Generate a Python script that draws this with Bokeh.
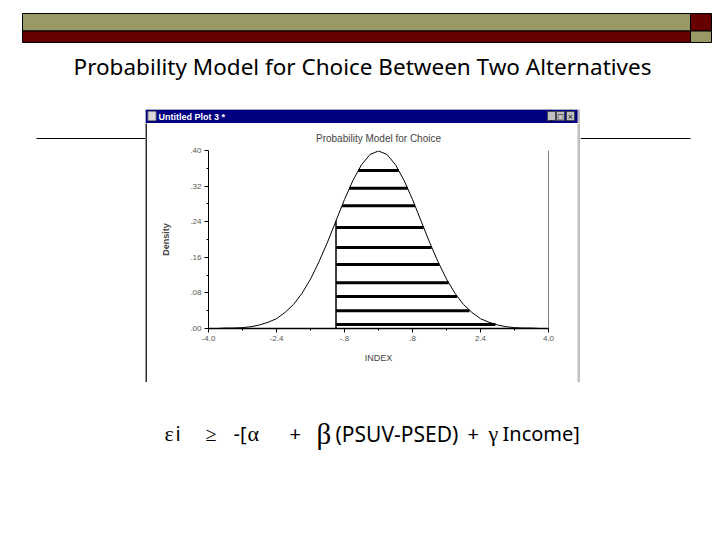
from bokeh.plotting import figure
from bokeh.layouts import column, row
from bokeh.models import Range1d, FixedTicker, Span
from bokeh.core.properties import value
from bokeh.embed import file_html
from bokeh.resources import INLINE

# ---------------- data ----------------
curve_x = [-4.0, -3.8, -3.6, -3.4, -3.2, -3.0, -2.8, -2.6, -2.4, -2.2, -2.0,
           -1.8, -1.6, -1.4, -1.2, -1.0, -0.8, -0.6, -0.4, -0.2, 0.0,
           0.2, 0.4, 0.6, 0.8, 1.0, 1.2, 1.4, 1.6, 1.8, 2.0,
           2.2, 2.4, 2.6, 2.8, 3.0, 3.2, 3.4, 3.6, 3.8, 4.0]
curve_density = [0.000, 0.000, 0.001, 0.001, 0.002, 0.004, 0.008, 0.014, 0.022, 0.036, 0.054,
                 0.079, 0.111, 0.150, 0.194, 0.242, 0.290, 0.333, 0.368, 0.391, 0.399,
                 0.391, 0.368, 0.333, 0.290, 0.242, 0.194, 0.150, 0.111, 0.079, 0.054,
                 0.036, 0.022, 0.014, 0.008, 0.004, 0.002, 0.001, 0.001, 0.000, 0.000]

cutoff_x = [-1.0]
cutoff_density = [0.242]

hatch_density = [0.355, 0.315, 0.276, 0.227, 0.182, 0.144, 0.103, 0.072, 0.040, 0.009]
hatch_x0 = [-0.48, -0.69, -0.86, -1.0, -1.0, -1.0, -1.0, -1.0, -1.0, -1.0]
hatch_x1 = [0.48, 0.69, 0.86, 1.06, 1.25, 1.43, 1.65, 1.85, 2.14, 2.75]

x_ticks = [-4.0, -2.4, -0.8, 0.8, 2.4, 4.0]
x_tick_labels = ["-4.0", "-2.4", "-.8", ".8", "2.4", "4.0"]
x_minor = [-3.2, -1.6, 0.0, 1.6, 3.2]
y_ticks = [0.0, 0.08, 0.16, 0.24, 0.32, 0.40]
y_tick_labels = [".00", ".08", ".16", ".24", ".32", ".40"]
y_minor = [0.04, 0.12, 0.20, 0.28, 0.36]

slide_title = "Probability Model for Choice Between Two Alternatives"
window_title = "Untitled Plot 3 *"
chart_title = "Probability Model for Choice"

OLIVE = "#999966"
DARKRED = "#660000"
NAVY = "#000080"
GRAY = "#c0c0c0"


def blank(w, h, x0, x1, top, bottom, bg="white"):
    f = figure(width=w, height=h, x_range=Range1d(x0, x1), y_range=Range1d(bottom, top),
               output_backend="svg", toolbar_location=None, min_border=0)
    f.axis.visible = False
    f.grid.visible = False
    f.outline_line_color = None
    f.background_fill_color = bg
    f.border_fill_color = bg
    return f


# ---------------- top: banner + slide title ----------------
top = blank(712, 109, 0, 712, 0, 109)
top.quad(left=[22, 22, 690, 690], right=[690, 690, 711, 711],
         top=[13, 30.5, 13, 30.5], bottom=[30.5, 42, 30.5, 42],
         fill_color=[OLIVE, DARKRED, DARKRED, OLIVE], line_color="black", line_width=1)
top.text(x=[362], y=[66], text=[slide_title], text_align="center", text_baseline="middle",
         text_font=value("Noto Sans"), text_font_size="22.5px", text_color="black")

# ---------------- side lines ----------------
left = blank(145, 273, 0, 145, 109, 382)
left.segment(x0=[36], y0=[138], x1=[145], y1=[138], line_color="black", line_width=1)
right = blank(132, 273, 580, 712, 109, 382)
right.segment(x0=[580], y0=[138], x1=[690], y1=[138], line_color="black", line_width=1)

# ---------------- window title bar ----------------
tb = blank(435, 14, 145, 580, 109, 123, bg=GRAY)
tb.quad(left=[145], right=[577], top=[109], bottom=[123], fill_color=NAVY, line_color=None)
tb.quad(left=[147.5], right=[155.5], top=[111], bottom=[120], fill_color="#d8d8d8", line_color="#808080")
tb.text(x=[158], y=[116.5], text=[window_title], text_baseline="middle",
        text_font=value("Liberation Sans"), text_font_size="9px", text_font_style="bold",
        text_color="white")
tb.quad(left=[547, 556, 566], right=[555, 564, 574], top=[111, 111, 111], bottom=[120, 120, 120],
        fill_color=GRAY, line_color="#404040", line_width=0.8)
tb.text(x=[551, 560, 570], y=[116, 116, 116], text=["_", "□", "×"], text_align="center",
        text_baseline="middle", text_font=value("DejaVu Sans"), text_font_size="7px", text_color="black")

# ---------------- chart ----------------
p = figure(width=430, height=255, x_range=Range1d(-4, 4), y_range=Range1d(0, 0.40),
           output_backend="svg", toolbar_location=None,
           min_border_left=61, min_border_right=29, min_border_top=27, min_border_bottom=50,
           title=chart_title)
p.grid.visible = False
p.outline_line_color = None
p.background_fill_color = "white"
p.border_fill_color = "white"
p.title.align = "center"
p.title.text_font = "Liberation Sans"
p.title.text_font_size = "10px"
p.title.text_font_style = "normal"
p.title.standoff = 13

p.xaxis.ticker = FixedTicker(ticks=x_ticks, minor_ticks=x_minor)
p.yaxis.ticker = FixedTicker(ticks=y_ticks, minor_ticks=y_minor)
p.xaxis.major_label_overrides = dict(zip(x_ticks, x_tick_labels))
p.yaxis.major_label_overrides = dict(zip(y_ticks, y_tick_labels))
for ax in (p.xaxis, p.yaxis):
    ax.major_tick_out = 4
    ax.major_tick_in = 0
    ax.minor_tick_out = 2
    ax.minor_tick_in = 0
    ax.major_label_text_font = "Liberation Sans"
    ax.major_label_text_font_size = "8px"
    ax.major_label_text_color = "#555555"
    ax.axis_label_text_font = "Liberation Sans"
    ax.axis_label_text_font_size = "9px"
p.xaxis.axis_line_width = 1.5
p.xaxis.axis_label = "INDEX"
p.xaxis.axis_label_text_font_style = "normal"
p.xaxis.major_label_standoff = 3
p.xaxis.axis_label_standoff = 9
p.yaxis.axis_label = "Density"
p.yaxis.axis_label_text_font_style = "bold"
p.yaxis.major_label_standoff = 3
p.yaxis.axis_label_standoff = 16

p.add_layout(Span(location=4, dimension="height", line_color="black", line_width=1))
p.line(curve_x, curve_density, line_color="black", line_width=1)
p.segment(x0=hatch_x0, y0=hatch_density, x1=hatch_x1, y1=hatch_density,
          line_color="black", line_width=3)
p.segment(x0=cutoff_x, y0=[0], x1=cutoff_x, y1=cutoff_density, line_color="black", line_width=1.5)

lb = blank(2, 259, 0, 1, 0, 1, bg="#303030")
bb = blank(430, 4, 0, 1, 0, 1, bg=GRAY)
rb = blank(3, 259, 0, 1, 0, 1, bg=GRAY)
window = column(tb, row(lb, column(p, bb), rb))

# ---------------- bottom: equation ----------------
bot = blank(712, 150, 0, 712, 382, 532)
sans = value("Noto Sans")
serif = value("Liberation Serif")
pieces = [
    (164, "ε", serif, "22px"),
    (175, "i", sans, "20px"),
    (205, "≥", sans, "20px"),
    (233, "-[", sans, "20px"),
    (247, "α", serif, "22px"),
    (289, "+", sans, "20px"),
    (316, "β", serif, "29px"),
    (335, "(PSUV-PSED)", sans, "21px"),
    (467, "+", sans, "20px"),
    (488, "γ", serif, "22px"),
    (502, "Income]", sans, "20px"),
]
for x, t, fnt, size in pieces:
    bot.text(x=[x], y=[433], text=[t], text_baseline="alphabetic", text_align="left",
             text_font=fnt, text_font_size=size, text_color="black")

layout = column(top, row(left, window, right), bot)

open("out.html", "w").write(file_html(layout, INLINE))
